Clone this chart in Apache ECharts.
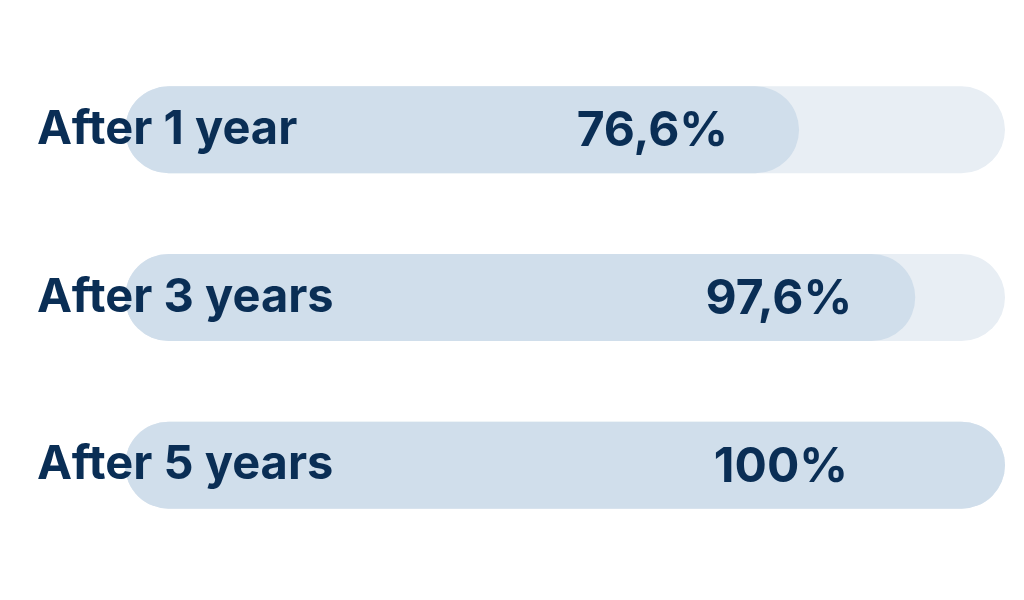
<!DOCTYPE html>
<html>
<head>
<meta charset="utf-8">
<script src="https://cdn.jsdelivr.net/npm/echarts@6/dist/echarts.min.js"></script>
<style>html,body{margin:0;padding:0;background:#fff}#c{width:1024px;height:600px}</style>
</head>
<body>
<div id="c"></div>
<script>
// Data
var categories = ['After 1 year', 'After 3 years', 'After 5 years'];
var barValues = [76.6, 89.8, 100];          // drawn bar lengths (% of track)
var valueLabels = ['76,6%', '97,6%', '100%']; // printed labels
var trackValues = [100, 100, 100];

// label gap from bar end (style, px)
var labelGaps = [71, 63, 157];

var navy = '#0a2e55';
var font = 'Inter';

var chart = echarts.init(document.getElementById('c'), null, {renderer: 'canvas'});
chart.setOption({
  animation: false,
  grid: {left: 125, right: 19, top: 46, bottom: 51},
  xAxis: {type: 'value', min: 0, max: 100, show: false},
  yAxis: {
    type: 'category', data: categories, inverse: true, z: 10,
    axisLine: {show: false}, axisTick: {show: false},
    axisLabel: {
      align: 'left', margin: 88, color: navy,
      fontFamily: font, fontWeight: 'bold', fontSize: 47
    }
  },
  series: [
    {
      type: 'bar', data: trackValues, barWidth: 87, barGap: '-100%',
      itemStyle: {color: '#e8eef4', borderRadius: 43.5}, silent: true, z: 1
    },
    {
      type: 'bar', barWidth: 87, z: 2,
      itemStyle: {color: '#d0deeb', borderRadius: 43.5},
      data: barValues.map(function (v, i) {
        return {
          value: v,
          label: {
            show: true, position: 'insideRight', distance: 0,
            offset: [-labelGaps[i], 2],
            formatter: valueLabels[i],
            color: navy, fontFamily: font, fontWeight: 'bold', fontSize: 48
          }
        };
      })
    }
  ]
});
</script>
</body>
</html>
